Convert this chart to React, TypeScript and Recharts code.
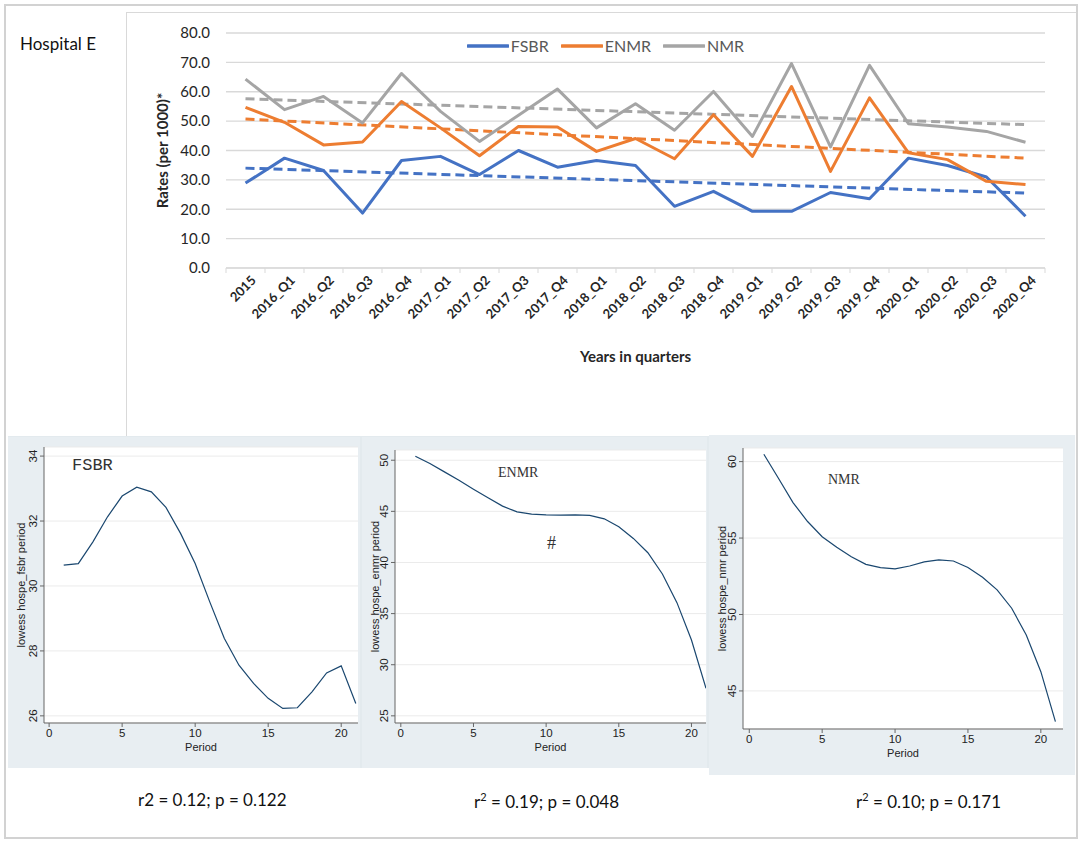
import React from "react";
import { CartesianGrid, Legend, Line, LineChart, XAxis, YAxis } from "recharts";

// Top panel: quarterly rates (per 1000), Hospital E
const quarters = [
  "2015", "2016_Q1", "2016_Q2", "2016_Q3", "2016_Q4", "2017_Q1", "2017_Q2",
  "2017_Q3", "2017_Q4", "2018_Q1", "2018_Q2", "2018_Q3", "2018_Q4", "2019_Q1",
  "2019_Q2", "2019_Q3", "2019_Q4", "2020_Q1", "2020_Q2", "2020_Q3", "2020_Q4",
];
const seriesNames = ["FSBR", "ENMR", "NMR"];
const fsbr = [28.9, 37.4, 33.2, 18.7, 36.6, 38.0, 31.8, 40.0, 34.3, 36.6, 34.9, 21.0, 26.1, 19.3, 19.3, 25.7, 23.6, 37.4, 34.9, 31.0, 17.6];
const enmr = [54.7, 49.6, 41.9, 42.9, 56.7, 47.7, 38.2, 48.2, 48.0, 39.7, 44.1, 37.2, 52.2, 38.0, 61.8, 32.9, 57.9, 39.2, 36.9, 29.5, 28.4];
const nmr = [64.3, 53.9, 58.4, 49.4, 66.2, 53.3, 43.1, 52.0, 60.9, 47.7, 55.9, 46.9, 60.1, 44.8, 69.6, 41.2, 69.0, 49.1, 48.0, 46.5, 42.8];
// linear trend lines: value at first and last quarter
const trendFsbr = [34.0, 25.5];
const trendEnmr = [50.7, 37.4];
const trendNmr = [57.6, 48.8];
const rateTicks = [0, 10, 20, 30, 40, 50, 60, 70, 80];

// Bottom panels: lowess smooths by period
const periods = [1, 2, 3, 4, 5, 6, 7, 8, 9, 10, 11, 12, 13, 14, 15, 16, 17, 18, 19, 20, 21];
const lowessFsbr = [30.64, 30.69, 31.36, 32.13, 32.77, 33.04, 32.9, 32.42, 31.62, 30.69, 29.51, 28.38, 27.56, 27.0, 26.54, 26.23, 26.25, 26.74, 27.32, 27.54, 26.38];
const lowessEnmr = [50.39, 49.68, 48.86, 48.05, 47.17, 46.32, 45.51, 44.95, 44.73, 44.66, 44.63, 44.66, 44.6, 44.27, 43.49, 42.35, 40.95, 38.87, 36.07, 32.42, 27.7];
const lowessNmr = [60.48, 58.91, 57.32, 56.08, 55.09, 54.4, 53.78, 53.28, 53.07, 52.98, 53.17, 53.44, 53.57, 53.5, 53.07, 52.44, 51.61, 50.41, 48.66, 46.26, 42.99];
const periodTicks = [0, 5, 10, 15, 20];

const BLUE = "#4472c4";
const ORANGE = "#ed7d31";
const GREY = "#a5a5a5";
const GRID = "#d9d9d9";
const TEXT = "#262626";
const SANS = "Lato, 'Open Sans', sans-serif";
const STATA = "'Liberation Sans', Arial, sans-serif";
const PANEL_BG = "#e8eef2";

// top chart frame
const TOP_W = 949;
const TOP_H = 400;
const TOP_LEFT = 100;
const TOP_RIGHT = 30;
const band = (TOP_W - TOP_LEFT - TOP_RIGHT) / quarters.length;

const last = quarters.length - 1;
const endpoint = (t: number[], i: number) => (i === 0 ? t[0] : i === last ? t[1] : null);

const rows = quarters.map((q, i) => ({
  i,
  q,
  fsbr: fsbr[i],
  enmr: enmr[i],
  nmr: nmr[i],
  fsbrTrend: endpoint(trendFsbr, i),
  enmrTrend: endpoint(trendEnmr, i),
  nmrTrend: endpoint(trendNmr, i),
}));

// Label rotated 45°, plus Excel-style tick marks between categories.
const QuarterTick = ({ x, y, payload }: any) => {
  const i = payload.value as number;
  return (
    <g>
      <line x1={x - band / 2} y1={y} x2={x - band / 2} y2={y + 5} stroke={GRID} />
      {i === last && <line x1={x + band / 2} y1={y} x2={x + band / 2} y2={y + 5} stroke={GRID} />}
      <g transform={`translate(${x + 8},${y + 10})`}>
        <text textAnchor="end" transform="rotate(-45)" dy="0.35em" fontFamily={SANS} fontWeight={700} fontSize={13} fill={TEXT}>
          {quarters[i]}
        </text>
      </g>
    </g>
  );
};

const renderLegend = ({ payload }: any) => {
  const items = (payload || [])
    .filter((e: any) => seriesNames.includes(e.value))
    .sort((a: any, b: any) => seriesNames.indexOf(a.value) - seriesNames.indexOf(b.value));
  return (
    <div style={{ display: "flex", justifyContent: "center", gap: 12, paddingLeft: 40, fontFamily: SANS, fontSize: 16, color: "#595959" }}>
      {items.map((e: any) => (
        <span key={e.value} style={{ display: "flex", alignItems: "center" }}>
          <svg width={42} height={6}>
            <line x1={1} y1={3} x2={41} y2={3} stroke={e.color} strokeWidth={3.5} strokeLinecap="round" />
          </svg>
          <span style={{ marginLeft: 2 }}>{e.value}</span>
        </span>
      ))}
    </div>
  );
};

function RatesChart() {
  return (
    <LineChart width={TOP_W} height={TOP_H} data={rows} margin={{ top: 21, right: TOP_RIGHT, left: 0, bottom: 0 }}>
      <CartesianGrid vertical={false} stroke={GRID} strokeWidth={1.3} />
      <XAxis
        dataKey="i"
        type="number"
        domain={[-0.5, last + 0.5]}
        ticks={quarters.map((_, i) => i)}
        interval={0}
        tick={<QuarterTick />}
        tickSize={0}
        tickMargin={0}
        axisLine={{ stroke: GRID }}
        tickLine={false}
        height={TOP_H - 21 - 235}
        label={{
          content: ({ viewBox }: any) => (
            <text x={viewBox.x + viewBox.width / 2} y={viewBox.y + 94} textAnchor="middle" fontFamily={SANS} fontWeight={700} fontSize={15} fill={TEXT}>
              Years in quarters
            </text>
          ),
        }}
      />
      <YAxis
        domain={[0, 80]}
        ticks={rateTicks}
        tickFormatter={(v) => Number(v).toFixed(1)}
        axisLine={false}
        tickLine={false}
        tickSize={0}
        tickMargin={16}
        width={TOP_LEFT}
        tick={{ fontFamily: SANS, fontSize: 15, fill: TEXT }}
        label={{
          content: ({ viewBox }: any) => {
            const cx = viewBox.x + 42;
            const cy = viewBox.y + viewBox.height / 2;
            return (
              <text x={cx} y={cy} transform={`rotate(-90 ${cx} ${cy})`} textAnchor="middle" fontFamily={SANS} fontWeight={700} fontSize={15} fill={TEXT}>
                Rates (per 1000)*
              </text>
            );
          },
        }}
      />
      <Legend verticalAlign="middle" align="center" layout="horizontal" content={renderLegend} wrapperStyle={{ top: 24 }} />
      <Line type="linear" dataKey="fsbrTrend" stroke={BLUE} strokeWidth={3} strokeDasharray="9 5" dot={false} connectNulls legendType="none" isAnimationActive={false} />
      <Line type="linear" dataKey="enmrTrend" stroke={ORANGE} strokeWidth={3} strokeDasharray="9 5" dot={false} connectNulls legendType="none" isAnimationActive={false} />
      <Line type="linear" dataKey="nmrTrend" stroke={GREY} strokeWidth={3} strokeDasharray="9 5" dot={false} connectNulls legendType="none" isAnimationActive={false} />
      <Line type="linear" dataKey="fsbr" name="FSBR" stroke={BLUE} strokeWidth={3} dot={false} strokeLinejoin="round" isAnimationActive={false} />
      <Line type="linear" dataKey="enmr" name="ENMR" stroke={ORANGE} strokeWidth={3} dot={false} strokeLinejoin="round" isAnimationActive={false} />
      <Line type="linear" dataKey="nmr" name="NMR" stroke={GREY} strokeWidth={3} dot={false} strokeLinejoin="round" isAnimationActive={false} />
    </LineChart>
  );
}

const StataYTick = ({ x, y, payload }: any) => (
  <text x={x} y={y} transform={`rotate(-90 ${x} ${y})`} textAnchor="middle" fontFamily={STATA} fontSize={11.5} fill="#222">
    {payload.value}
  </text>
);

interface PanelProps {
  box: { left: number; top: number; width: number; height: number };
  plot: { left: number; top: number; width: number; height: number };
  values: number[];
  xDomain: [number, number];
  yDomain: [number, number];
  yTicks: number[];
  yLabel: string;
}

function LowessPanel({ box, plot, values, xDomain, yDomain, yTicks, yLabel }: PanelProps) {
  const data = periods.map((p, k) => ({ p, v: values[k] }));
  return (
    <div style={{ position: "absolute", left: box.left, top: box.top, width: box.width, height: box.height, background: PANEL_BG }}>
      <LineChart
        width={box.width}
        height={box.height}
        data={data}
        margin={{ top: plot.top, right: box.width - plot.left - plot.width, left: 0, bottom: 0 }}
      >
        <CartesianGrid vertical={false} fill="#ffffff" stroke="#ebebeb" />
        <XAxis
          dataKey="p"
          type="number"
          domain={xDomain}
          ticks={periodTicks}
          allowDataOverflow
          height={box.height - plot.top - plot.height}
          tickSize={4}
          tickMargin={2}
          axisLine={{ stroke: "#666" }}
          tickLine={{ stroke: "#666" }}
          tick={{ fontFamily: STATA, fontSize: 11.5, fill: "#222" }}
          label={{
            content: ({ viewBox }: any) => (
              <text x={viewBox.x + viewBox.width / 2} y={viewBox.y + 28} textAnchor="middle" fontFamily={STATA} fontSize={11} fill="#222">
                Period
              </text>
            ),
          }}
        />
        <YAxis
          type="number"
          domain={yDomain}
          ticks={yTicks}
          allowDataOverflow
          width={plot.left}
          tickSize={4}
          tickMargin={3}
          axisLine={{ stroke: "#666" }}
          tickLine={{ stroke: "#666" }}
          tick={<StataYTick />}
          label={{
            content: ({ viewBox }: any) => {
              const cx = viewBox.x + 17;
              const cy = viewBox.y + viewBox.height / 2;
              return (
                <text x={cx} y={cy} transform={`rotate(-90 ${cx} ${cy})`} textAnchor="middle" fontFamily={STATA} fontSize={11} fill="#222">
                  {yLabel}
                </text>
              );
            },
          }}
        />
        <Line type="linear" dataKey="v" stroke="#1a476f" strokeWidth={1.2} dot={false} isAnimationActive={false} />
      </LineChart>
    </div>
  );
}

const abs = (left: number, top: number, extra: React.CSSProperties = {}): React.CSSProperties => ({
  position: "absolute",
  left,
  top,
  lineHeight: 1,
  whiteSpace: "nowrap",
  ...extra,
});

const NOTE = "'Liberation Sans Narrow', Lato, sans-serif";

export default function App() {
  return (
    <div style={{ position: "absolute", left: 0, top: 0, width: 1084, height: 847, background: "#fff", overflow: "hidden" }}>
      <div style={{ position: "absolute", left: 4, top: 4, width: 1074, height: 835, border: "2px solid #d2d2d2", boxSizing: "border-box" }} />
      <div style={{ position: "absolute", left: 126, top: 12, width: 950, height: 425, borderLeft: "1px solid #d9d9d9", borderTop: "1px solid #d9d9d9", boxSizing: "border-box" }} />
      <div style={abs(20, 35, { fontFamily: SANS, fontSize: 17, color: "#111" })}>Hospital E</div>
      <div style={{ position: "absolute", left: 126, top: 12 }}>
        <RatesChart />
      </div>

      <div style={{ position: "absolute", left: 8, top: 436, width: 1067, height: 332, background: "#e3eaee" }} />
      <LowessPanel
        box={{ left: 8, top: 437, width: 352, height: 331 }}
        plot={{ left: 36, top: 10, width: 314, height: 276 }}
        values={lowessFsbr}
        xDomain={[-0.35, 21.15]}
        yDomain={[25.78, 34.28]}
        yTicks={[26, 28, 30, 32, 34]}
        yLabel="lowess hospe_fsbr period"
      />
      <LowessPanel
        box={{ left: 362, top: 437, width: 345, height: 331 }}
        plot={{ left: 33, top: 13, width: 311, height: 273 }}
        values={lowessEnmr}
        xDomain={[-0.4, 21.0]}
        yDomain={[24.3, 51.0]}
        yTicks={[25, 30, 35, 40, 45, 50]}
        yLabel="lowess hospe_enmr period"
      />
      <LowessPanel
        box={{ left: 709, top: 435, width: 366, height: 340 }}
        plot={{ left: 34, top: 13, width: 320, height: 281 }}
        values={lowessNmr}
        xDomain={[-0.43, 21.52]}
        yDomain={[42.51, 60.89]}
        yTicks={[45, 50, 55, 60]}
        yLabel="lowess hospe_nmr period"
      />
      <div style={abs(72, 457, { fontFamily: "'Liberation Mono', monospace", fontSize: 17, color: "#333" })}>FSBR</div>
      <div style={abs(498, 466, { fontFamily: "'Liberation Serif', serif", fontSize: 14, color: "#333" })}>ENMR</div>
      <div style={abs(828, 473, { fontFamily: "'Liberation Serif', serif", fontSize: 14, color: "#333" })}>NMR</div>
      <div style={abs(547, 534, { fontFamily: "'Liberation Serif', serif", fontSize: 18, color: "#333" })}>#</div>

      <div style={abs(138, 791, { fontFamily: NOTE, fontSize: 17, color: "#111" })}>r2 = 0.12; p = 0.122</div>
      <div style={abs(474, 791, { fontFamily: NOTE, fontSize: 17, color: "#111" })}>
        r<sup style={{ fontSize: 11 }}>2</sup> = 0.19; p = 0.048
      </div>
      <div style={abs(856, 791, { fontFamily: NOTE, fontSize: 17, color: "#111" })}>
        r<sup style={{ fontSize: 11 }}>2</sup> = 0.10; p = 0.171
      </div>
    </div>
  );
}
